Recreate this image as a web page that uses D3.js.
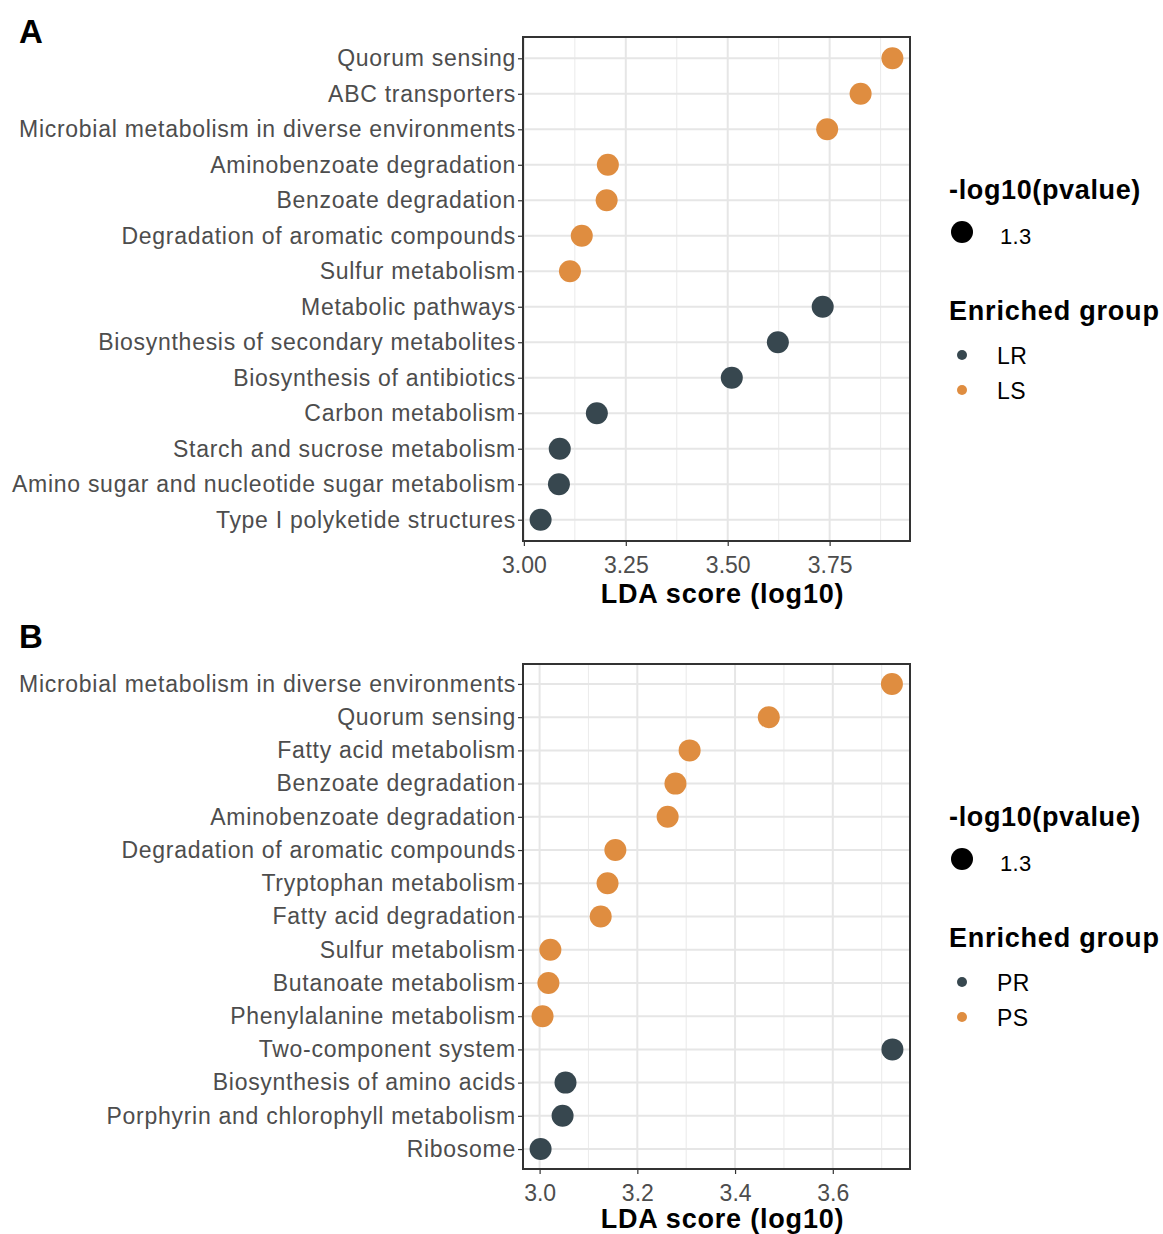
<!DOCTYPE html>
<html>
<head>
<meta charset="utf-8">
<script src="https://cdn.jsdelivr.net/npm/d3@7"></script>
<style>
  html, body { margin: 0; padding: 0; background: #fff; }
  svg { display: block; font-family: "Liberation Sans", Arial, Helvetica, sans-serif; }
</style>
</head>
<body>
<svg id="chart" width="1163" height="1234"></svg>
<script>
// Panel A: pathways enriched in LR / LS
const pathwaysA = [
  "Quorum sensing", "ABC transporters", "Microbial metabolism in diverse environments",
  "Aminobenzoate degradation", "Benzoate degradation", "Degradation of aromatic compounds",
  "Sulfur metabolism", "Metabolic pathways", "Biosynthesis of secondary metabolites",
  "Biosynthesis of antibiotics", "Carbon metabolism", "Starch and sucrose metabolism",
  "Amino sugar and nucleotide sugar metabolism", "Type I polyketide structures"
];
const ldaA = [3.904, 3.826, 3.744, 3.206, 3.203, 3.142, 3.113, 3.733, 3.623, 3.510, 3.179, 3.088, 3.086, 3.041];
const groupA = ["LS", "LS", "LS", "LS", "LS", "LS", "LS", "LR", "LR", "LR", "LR", "LR", "LR", "LR"];
const groupsA = ["LR", "LS"];
const ticksA = [3.00, 3.25, 3.50, 3.75];

// Panel B: pathways enriched in PR / PS
const pathwaysB = [
  "Microbial metabolism in diverse environments", "Quorum sensing", "Fatty acid metabolism",
  "Benzoate degradation", "Aminobenzoate degradation", "Degradation of aromatic compounds",
  "Tryptophan metabolism", "Fatty acid degradation", "Sulfur metabolism",
  "Butanoate metabolism", "Phenylalanine metabolism", "Two-component system",
  "Biosynthesis of amino acids", "Porphyrin and chlorophyll metabolism", "Ribosome"
];
const ldaB = [3.721, 3.469, 3.307, 3.278, 3.262, 3.155, 3.139, 3.125, 3.022, 3.018, 3.006, 3.722, 3.053, 3.047, 3.002];
const groupB = ["PS", "PS", "PS", "PS", "PS", "PS", "PS", "PS", "PS", "PS", "PS", "PR", "PR", "PR", "PR"];
const groupsB = ["PR", "PS"];
const ticksB = [3.0, 3.2, 3.4, 3.6];

const pvalueLabel = "1.3";
const groupColors = ["#37474F", "#DF8D40"];

const svg = d3.select("#chart");
const labelFont = 23, labelSpacing = 0.72;
const tickFont = 23, tickSpacing = 0;
const titleFont = 27, titleSpacing = 0.8;

function drawPanel(cfg) {
  const { letter, letterY, left, right, top, bottom, names, values, groups, groupKeys, ticks, tickFmt, legendTop, titleOffset } = cfg;
  const g = svg.append("g");

  // ggplot-like 5% expansion of the continuous axis
  const [lo, hi] = d3.extent(values);
  const pad = (hi - lo) * 0.05;
  const x = d3.scaleLinear().domain([lo - pad, hi + pad]).range([left, right]);

  // discrete axis with 0.6-unit padding at each end
  const step = (bottom - top) / (names.length - 1 + 1.2);
  const y = d3.scalePoint().domain(names).range([top + 0.6 * step, bottom - 0.6 * step]);

  const color = d3.scaleOrdinal().domain(groupKeys).range(groupColors);

  // panel letter
  g.append("text").attr("x", 19).attr("y", letterY)
    .attr("font-size", 33).attr("font-weight", "bold").attr("fill", "#000").text(letter);

  // minor vertical grid, halfway between major breaks
  const d0 = ticks[1] - ticks[0];
  const minor = [ticks[0] - d0 / 2, ...ticks.map(t => t + d0 / 2)]
    .filter(v => v > x.domain()[0] && v < x.domain()[1]);
  g.append("g").selectAll("line").data(minor).join("line")
    .attr("x1", d => x(d)).attr("x2", d => x(d)).attr("y1", top).attr("y2", bottom)
    .attr("stroke", "#ececec").attr("stroke-width", 1.1);

  // major vertical grid
  g.append("g").selectAll("line").data(ticks).join("line")
    .attr("x1", d => x(d)).attr("x2", d => x(d)).attr("y1", top).attr("y2", bottom)
    .attr("stroke", "#e6e6e6").attr("stroke-width", 2);

  // major horizontal grid
  g.append("g").selectAll("line").data(names).join("line")
    .attr("x1", left).attr("x2", right).attr("y1", d => y(d)).attr("y2", d => y(d))
    .attr("stroke", "#e6e6e6").attr("stroke-width", 2);

  // y axis (labels + ticks)
  const ya = g.append("g").attr("transform", `translate(${left},0)`)
    .call(d3.axisLeft(y).tickSize(5).tickPadding(2));
  ya.select(".domain").remove();
  ya.selectAll(".tick line").attr("stroke", "#333").attr("stroke-width", 1.2);
  ya.selectAll(".tick text").attr("font-size", labelFont).attr("fill", "#4d4d4d")
    .attr("letter-spacing", labelSpacing)
    .attr("font-family", "Liberation Sans, Arial, sans-serif");

  // x axis
  const xa = g.append("g").attr("transform", `translate(0,${bottom})`)
    .call(d3.axisBottom(x).tickValues(ticks).tickFormat(tickFmt).tickSize(5).tickPadding(11));
  xa.select(".domain").remove();
  xa.selectAll(".tick line").attr("stroke", "#333").attr("stroke-width", 1.2);
  xa.selectAll(".tick text").attr("font-size", tickFont).attr("fill", "#4d4d4d")
    .attr("letter-spacing", tickSpacing)
    .attr("font-family", "Liberation Sans, Arial, sans-serif");

  // points
  g.append("g").selectAll("circle").data(values).join("circle")
    .attr("cx", d => x(d)).attr("cy", (d, i) => y(names[i]))
    .attr("r", 11).attr("fill", (d, i) => color(groups[i]));

  // panel border
  g.append("rect").attr("x", left).attr("y", top)
    .attr("width", right - left).attr("height", bottom - top)
    .attr("fill", "none").attr("stroke", "#333").attr("stroke-width", 2);

  // axis title
  g.append("text").attr("x", (left + right) / 2 + 6).attr("y", bottom + titleOffset)
    .attr("text-anchor", "middle").attr("font-size", titleFont).attr("font-weight", "bold")
    .attr("letter-spacing", titleSpacing)
    .attr("fill", "#000").text("LDA score (log10)");

  // legends
  const lg = g.append("g").attr("transform", `translate(949,${legendTop})`);
  lg.append("text").attr("x", 0).attr("y", 0).attr("font-size", titleFont).attr("font-weight", "bold")
    .attr("letter-spacing", titleSpacing * 0.8)
    .attr("fill", "#000").text("-log10(pvalue)");
  lg.append("circle").attr("cx", 13).attr("cy", 33).attr("r", 11).attr("fill", "#000");
  lg.append("text").attr("x", 51).attr("y", 45).attr("font-size", 22)
    .attr("letter-spacing", 0.3).attr("fill", "#000").text(pvalueLabel);

  lg.append("text").attr("x", 0).attr("y", 121).attr("font-size", titleFont).attr("font-weight", "bold")
    .attr("letter-spacing", titleSpacing)
    .attr("fill", "#000").text("Enriched group");
  const items = lg.append("g").selectAll("g").data(groupKeys).join("g")
    .attr("transform", (d, i) => `translate(0,${156 + i * 35})`);
  items.append("circle").attr("cx", 13).attr("cy", 0).attr("r", 5).attr("fill", d => color(d));
  items.append("text").attr("x", 48).attr("y", 9).attr("font-size", labelFont)
    .attr("letter-spacing", labelSpacing * 0.6).attr("fill", "#000").text(d => d);
}

drawPanel({
  letter: "A", letterY: 43, left: 523, right: 910, top: 37, bottom: 541,
  names: pathwaysA, values: ldaA, groups: groupA, groupKeys: groupsA,
  ticks: ticksA, tickFmt: d3.format(".2f"), legendTop: 199, titleOffset: 62
});
drawPanel({
  letter: "B", letterY: 648, left: 523, right: 910, top: 664, bottom: 1169,
  names: pathwaysB, values: ldaB, groups: groupB, groupKeys: groupsB,
  ticks: ticksB, tickFmt: d3.format(".1f"), legendTop: 826, titleOffset: 59
});
</script>
</body>
</html>
